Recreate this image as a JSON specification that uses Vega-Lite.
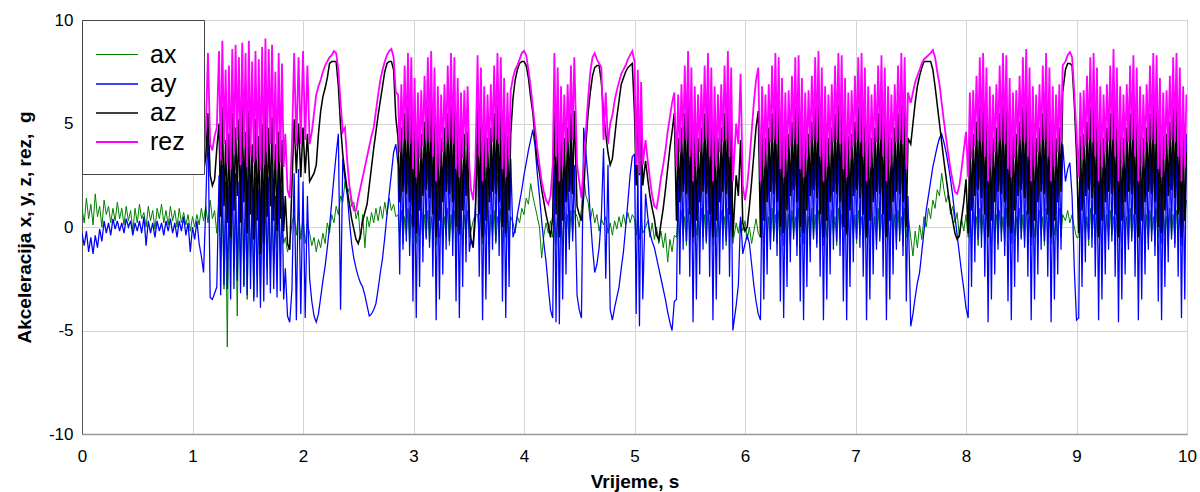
{
"$schema": "https://vega.github.io/schema/vega-lite/v6.json",
"width": 1105,
"height": 414,
"autosize": "none",
"padding": {"left": 82, "top": 20, "right": 13, "bottom": 58},
"background": "white",
"config": {"view": {"stroke": "#444", "strokeWidth": 1}, "font": "Liberation Sans"},
"data": {"values": [
{"t":0.00,"ax":0.9,"ay":-0.3,"az":3.8,"rez":4.3},
{"t":0.02,"ax":0.2,"ay":-0.9,"az":3.6,"rez":4.1},
{"t":0.04,"ax":1.4,"ay":-0.2,"az":3.8,"rez":4.3},
{"t":0.06,"ax":0.4,"ay":-1.2,"az":3.6,"rez":4.1},
{"t":0.08,"ax":1.1,"ay":-0.5,"az":3.8,"rez":4.3},
{"t":0.10,"ax":0.1,"ay":-1.3,"az":3.6,"rez":4.1},
{"t":0.12,"ax":1.6,"ay":-0.4,"az":3.8,"rez":4.3},
{"t":0.14,"ax":0.5,"ay":-1.0,"az":3.6,"rez":4.1},
{"t":0.16,"ax":1.0,"ay":-0.1,"az":3.8,"rez":4.3},
{"t":0.18,"ax":0.0,"ay":-0.7,"az":3.6,"rez":4.1},
{"t":0.20,"ax":1.3,"ay":0.3,"az":3.8,"rez":4.3},
{"t":0.22,"ax":0.6,"ay":-0.3,"az":3.6,"rez":4.1},
{"t":0.24,"ax":1.0,"ay":0.2,"az":3.8,"rez":4.3},
{"t":0.26,"ax":0.2,"ay":-0.4,"az":3.6,"rez":4.1},
{"t":0.28,"ax":0.9,"ay":0.4,"az":3.8,"rez":4.3},
{"t":0.30,"ax":0.3,"ay":-0.1,"az":3.6,"rez":4.1},
{"t":0.32,"ax":1.2,"ay":0.3,"az":3.8,"rez":4.3},
{"t":0.34,"ax":0.4,"ay":-0.2,"az":3.6,"rez":4.1},
{"t":0.36,"ax":0.9,"ay":0.2,"az":3.8,"rez":4.3},
{"t":0.38,"ax":0.1,"ay":-0.3,"az":3.6,"rez":4.1},
{"t":0.40,"ax":1.0,"ay":0.4,"az":3.8,"rez":4.3},
{"t":0.42,"ax":0.3,"ay":0.0,"az":3.6,"rez":4.1},
{"t":0.44,"ax":0.8,"ay":0.3,"az":3.8,"rez":4.3},
{"t":0.46,"ax":-0.2,"ay":-0.4,"az":3.6,"rez":4.1},
{"t":0.48,"ax":0.9,"ay":0.2,"az":3.8,"rez":4.3},
{"t":0.50,"ax":0.2,"ay":-0.2,"az":3.6,"rez":4.1},
{"t":0.52,"ax":1.1,"ay":0.3,"az":3.8,"rez":4.3},
{"t":0.54,"ax":0.4,"ay":-0.3,"az":3.6,"rez":4.1},
{"t":0.56,"ax":0.7,"ay":0.5,"az":3.8,"rez":4.3},
{"t":0.58,"ax":0.0,"ay":-0.9,"az":3.6,"rez":4.1},
{"t":0.60,"ax":1.0,"ay":0.3,"az":3.8,"rez":4.3},
{"t":0.62,"ax":0.3,"ay":-0.3,"az":3.6,"rez":4.1},
{"t":0.64,"ax":0.8,"ay":0.2,"az":3.8,"rez":4.3},
{"t":0.66,"ax":-0.1,"ay":-0.5,"az":3.6,"rez":4.1},
{"t":0.68,"ax":0.9,"ay":0.3,"az":3.8,"rez":4.3},
{"t":0.70,"ax":0.4,"ay":-0.2,"az":3.6,"rez":4.1},
{"t":0.72,"ax":1.1,"ay":0.2,"az":3.8,"rez":4.3},
{"t":0.74,"ax":0.2,"ay":-0.4,"az":3.6,"rez":4.1},
{"t":0.76,"ax":0.8,"ay":0.3,"az":3.8,"rez":4.3},
{"t":0.78,"ax":0.1,"ay":-0.2,"az":3.6,"rez":4.1},
{"t":0.80,"ax":1.0,"ay":0.4,"az":3.8,"rez":4.3},
{"t":0.82,"ax":0.3,"ay":-0.3,"az":3.6,"rez":4.1},
{"t":0.84,"ax":0.8,"ay":0.2,"az":3.8,"rez":4.3},
{"t":0.86,"ax":0.0,"ay":-0.5,"az":3.6,"rez":4.1},
{"t":0.88,"ax":0.9,"ay":0.3,"az":3.8,"rez":4.3},
{"t":0.90,"ax":0.2,"ay":-0.2,"az":3.6,"rez":4.1},
{"t":0.92,"ax":0.7,"ay":0.5,"az":3.8,"rez":4.3},
{"t":0.94,"ax":0.1,"ay":-0.4,"az":3.6,"rez":4.1},
{"t":0.96,"ax":0.6,"ay":0.2,"az":3.8,"rez":4.3},
{"t":0.98,"ax":-0.2,"ay":-1.2,"az":3.6,"rez":4.1},
{"t":1.00,"ax":0.5,"ay":0.0,"az":3.8,"rez":4.4},
{"t":1.02,"ax":0.0,"ay":-0.6,"az":3.5,"rez":4.0},
{"t":1.04,"ax":0.6,"ay":0.3,"az":3.9,"rez":4.4},
{"t":1.06,"ax":0.1,"ay":-0.8,"az":3.2,"rez":3.8},
{"t":1.08,"ax":0.9,"ay":-1.4,"az":3.6,"rez":4.7},
{"t":1.10,"ax":0.3,"ay":-2.2,"az":2.6,"rez":3.5},
{"t":1.12,"ax":1.0,"ay":1.0,"az":3.4,"rez":4.6},
{"t":1.14,"ax":0.2,"ay":5.0,"az":5.5,"rez":8.4},
{"t":1.16,"ax":1.3,"ay":-3.4,"az":2.5,"rez":4.0},
{"t":1.18,"ax":0.4,"ay":-3.5,"az":2.0,"rez":3.7},
{"t":1.20,"ax":0.8,"ay":-3.2,"az":2.3,"rez":4.4},
{"t":1.22,"ax":-0.3,"ay":-2.9,"az":3.8,"rez":4.8},
{"t":1.240,"ax":1.5,"ay":2.5,"az":5.0,"rez":8.5},
{"t":1.255,"ax":-1.5,"ay":-3.3,"az":0.5,"rez":3.2},
{"t":1.270,"ax":1.0,"ay":3.0,"az":5.8,"rez":9.0},
{"t":1.285,"ax":-3.0,"ay":-2.8,"az":1.0,"rez":4.0},
{"t":1.300,"ax":0.8,"ay":2.2,"az":4.2,"rez":7.6},
{"t":1.315,"ax":-5.8,"ay":-3.0,"az":0.2,"rez":3.0},
{"t":1.330,"ax":1.6,"ay":2.0,"az":4.5,"rez":7.8},
{"t":1.345,"ax":-1.2,"ay":-3.5,"az":-0.5,"rez":2.8},
{"t":1.360,"ax":1.8,"ay":3.4,"az":5.5,"rez":8.6},
{"t":1.375,"ax":-2.0,"ay":-3.0,"az":0.8,"rez":3.5},
{"t":1.390,"ax":0.8,"ay":2.6,"az":4.8,"rez":8.8},
{"t":1.405,"ax":-4.3,"ay":-2.6,"az":1.5,"rez":4.2},
{"t":1.420,"ax":1.2,"ay":2.2,"az":5.2,"rez":8.2},
{"t":1.435,"ax":-2.0,"ay":-3.2,"az":0.2,"rez":3.0},
{"t":1.450,"ax":1.5,"ay":3.2,"az":6.0,"rez":8.9},
{"t":1.465,"ax":-2.8,"ay":-2.9,"az":1.2,"rez":3.8},
{"t":1.480,"ax":0.6,"ay":2.8,"az":4.6,"rez":8.4},
{"t":1.495,"ax":-3.5,"ay":-3.3,"az":-0.3,"rez":2.9},
{"t":1.510,"ax":1.0,"ay":3.0,"az":5.6,"rez":9.0},
{"t":1.525,"ax":-1.5,"ay":-3.0,"az":0.6,"rez":3.4},
{"t":1.540,"ax":0.9,"ay":2.0,"az":4.0,"rez":8.0},
{"t":1.555,"ax":-3.4,"ay":-3.6,"az":-0.6,"rez":3.1},
{"t":1.570,"ax":1.4,"ay":2.4,"az":5.2,"rez":8.5},
{"t":1.585,"ax":-2.4,"ay":-3.4,"az":0.3,"rez":3.3},
{"t":1.600,"ax":0.5,"ay":1.8,"az":4.4,"rez":8.1},
{"t":1.615,"ax":-3.2,"ay":-3.9,"az":-1.3,"rez":2.7},
{"t":1.630,"ax":0.4,"ay":2.6,"az":5.0,"rez":8.7},
{"t":1.645,"ax":-1.6,"ay":-3.6,"az":-0.8,"rez":3.0},
{"t":1.660,"ax":1.0,"ay":3.2,"az":5.9,"rez":9.1},
{"t":1.675,"ax":-2.0,"ay":-2.8,"az":0.5,"rez":3.6},
{"t":1.690,"ax":0.7,"ay":2.4,"az":4.8,"rez":8.6},
{"t":1.705,"ax":-2.5,"ay":-3.2,"az":1.0,"rez":4.0},
{"t":1.720,"ax":0.5,"ay":2.8,"az":5.3,"rez":8.8},
{"t":1.735,"ax":-1.8,"ay":-3.0,"az":0.3,"rez":3.3},
{"t":1.750,"ax":0.3,"ay":1.5,"az":4.0,"rez":7.5},
{"t":1.765,"ax":-1.0,"ay":-3.4,"az":-0.2,"rez":2.8},
{"t":1.780,"ax":0.6,"ay":2.6,"az":4.6,"rez":8.4},
{"t":1.795,"ax":-1.2,"ay":-3.1,"az":0.4,"rez":3.1},
{"t":1.810,"ax":0.5,"ay":2.0,"az":4.2,"rez":7.9},
{"t":1.825,"ax":-0.8,"ay":-3.5,"az":-0.2,"rez":2.9},
{"t":1.84,"ax":-0.5,"ay":-2.0,"az":1.5,"rez":4.5},
{"t":1.86,"ax":-1.2,"ay":-4.3,"az":-0.8,"rez":1.8},
{"t":1.88,"ax":-0.8,"ay":-4.6,"az":-1.1,"rez":1.4},
{"t":1.90,"ax":0.2,"ay":-3.0,"az":2.0,"rez":4.0},
{"t":1.92,"ax":0.6,"ay":2.6,"az":5.2,"rez":8.4},
{"t":1.94,"ax":-0.4,"ay":-4.5,"az":2.6,"rez":3.9},
{"t":1.96,"ax":0.8,"ay":2.8,"az":5.0,"rez":8.2},
{"t":1.98,"ax":-0.6,"ay":-4.2,"az":2.4,"rez":4.0},
{"t":2.00,"ax":0.5,"ay":2.2,"az":4.8,"rez":8.5},
{"t":2.02,"ax":-0.8,"ay":-4.4,"az":2.6,"rez":4.2},
{"t":2.04,"ax":0.2,"ay":1.5,"az":4.5,"rez":7.8},
{"t":2.06,"ax":-0.3,"ay":-2.5,"az":2.2,"rez":4.0},
{"t":2.08,"ax":-0.9,"ay":-3.6,"az":2.4,"rez":4.6},
{"t":2.10,"ax":-0.5,"ay":-4.3,"az":2.6,"rez":5.5},
{"t":2.12,"ax":-1.2,"ay":-4.6,"az":3.0,"rez":6.4},
{"t":2.14,"ax":-0.6,"ay":-4.2,"az":4.5,"rez":6.8},
{"t":2.16,"ax":-1.0,"ay":-3.4,"az":5.6,"rez":7.1},
{"t":2.18,"ax":-0.3,"ay":-2.6,"az":6.3,"rez":7.5},
{"t":2.20,"ax":-0.8,"ay":-1.9,"az":6.7,"rez":7.8},
{"t":2.22,"ax":0.2,"ay":-1.0,"az":7.2,"rez":8.0},
{"t":2.24,"ax":-0.3,"ay":0.0,"az":7.9,"rez":8.2},
{"t":2.26,"ax":0.6,"ay":1.2,"az":8.0,"rez":8.3},
{"t":2.28,"ax":0.2,"ay":2.4,"az":8.0,"rez":8.5},
{"t":2.30,"ax":1.0,"ay":3.5,"az":8.0,"rez":8.4},
{"t":2.32,"ax":0.6,"ay":4.5,"az":6.8,"rez":7.6},
{"t":2.34,"ax":1.5,"ay":-4.0,"az":4.9,"rez":6.0},
{"t":2.36,"ax":1.2,"ay":3.3,"az":3.5,"rez":4.6},
{"t":2.38,"ax":2.2,"ay":2.3,"az":2.6,"rez":4.8},
{"t":2.40,"ax":1.6,"ay":1.6,"az":1.8,"rez":3.2},
{"t":2.42,"ax":1.9,"ay":0.3,"az":1.1,"rez":2.0},
{"t":2.44,"ax":1.0,"ay":-0.8,"az":0.4,"rez":1.3},
{"t":2.46,"ax":1.2,"ay":-1.5,"az":-0.1,"rez":0.8},
{"t":2.48,"ax":0.4,"ay":-2.0,"az":-0.6,"rez":0.8},
{"t":2.50,"ax":0.8,"ay":-2.4,"az":-0.8,"rez":1.4},
{"t":2.52,"ax":-0.6,"ay":-2.7,"az":-0.4,"rez":1.9},
{"t":2.54,"ax":0.6,"ay":-2.9,"az":0.3,"rez":2.4},
{"t":2.56,"ax":-1.0,"ay":-3.3,"az":0.7,"rez":2.9},
{"t":2.58,"ax":0.5,"ay":-3.8,"az":1.1,"rez":3.4},
{"t":2.60,"ax":0.0,"ay":-4.3,"az":2.0,"rez":3.9},
{"t":2.62,"ax":0.7,"ay":-4.2,"az":2.9,"rez":4.4},
{"t":2.64,"ax":0.2,"ay":-4.0,"az":3.8,"rez":4.8},
{"t":2.66,"ax":0.9,"ay":-3.7,"az":4.6,"rez":5.6},
{"t":2.68,"ax":0.3,"ay":-3.0,"az":5.4,"rez":6.4},
{"t":2.70,"ax":1.0,"ay":-2.2,"az":6.1,"rez":7.1},
{"t":2.72,"ax":0.4,"ay":-1.5,"az":6.8,"rez":7.6},
{"t":2.74,"ax":1.2,"ay":-0.5,"az":7.5,"rez":8.0},
{"t":2.76,"ax":0.6,"ay":0.6,"az":7.9,"rez":8.3},
{"t":2.78,"ax":1.4,"ay":1.6,"az":8.0,"rez":8.5},
{"t":2.80,"ax":0.8,"ay":2.6,"az":8.0,"rez":8.6},
{"t":2.82,"ax":1.1,"ay":3.6,"az":7.6,"rez":8.2},
{"t":2.84,"ax":0.5,"ay":4.0,"az":5.3,"rez":6.5},
{"t":2.860,"ax":0.6,"ay":3.0,"az":4.3,"rez":6.4},
{"t":2.875,"ax":-0.5,"ay":-2.3,"az":1.2,"rez":3.6},
{"t":2.890,"ax":0.8,"ay":3.6,"az":4.8,"rez":6.9},
{"t":2.905,"ax":-0.8,"ay":-1.1,"az":1.7,"rez":4.1},
{"t":2.920,"ax":0.5,"ay":4.2,"az":5.5,"rez":7.8},
{"t":2.935,"ax":-0.4,"ay":-0.7,"az":1.6,"rez":4.2},
{"t":2.950,"ax":0.9,"ay":4.3,"az":5.9,"rez":8.4},
{"t":2.965,"ax":-0.9,"ay":-1.4,"az":1.2,"rez":4.0},
{"t":2.980,"ax":0.6,"ay":3.8,"az":5.7,"rez":8.2},
{"t":2.995,"ax":-0.5,"ay":-3.6,"az":0.0,"rez":2.8},
{"t":3.010,"ax":0.8,"ay":2.8,"az":4.9,"rez":7.2},
{"t":3.025,"ax":-0.8,"ay":-4.4,"az":-0.3,"rez":2.4},
{"t":3.040,"ax":0.5,"ay":2.7,"az":4.4,"rez":6.5},
{"t":3.055,"ax":-0.4,"ay":-2.9,"az":0.8,"rez":3.3},
{"t":3.070,"ax":0.9,"ay":3.3,"az":4.5,"rez":6.6},
{"t":3.085,"ax":-0.9,"ay":-1.7,"az":1.5,"rez":3.9},
{"t":3.100,"ax":0.6,"ay":3.9,"az":5.1,"rez":7.3},
{"t":3.115,"ax":-0.5,"ay":-0.6,"az":1.8,"rez":4.2},
{"t":3.130,"ax":0.8,"ay":4.4,"az":5.8,"rez":8.2},
{"t":3.145,"ax":-0.8,"ay":-1.0,"az":1.4,"rez":4.1},
{"t":3.160,"ax":0.5,"ay":4.2,"az":6.0,"rez":8.5},
{"t":3.175,"ax":-0.4,"ay":-2.4,"az":0.6,"rez":3.4},
{"t":3.190,"ax":0.9,"ay":3.3,"az":5.3,"rez":7.7},
{"t":3.205,"ax":-0.9,"ay":-4.5,"az":-0.5,"rez":2.2},
{"t":3.220,"ax":0.6,"ay":2.6,"az":4.6,"rez":6.8},
{"t":3.235,"ax":-0.5,"ay":-3.5,"az":0.3,"rez":2.9},
{"t":3.250,"ax":0.8,"ay":3.0,"az":4.3,"rez":6.4},
{"t":3.265,"ax":-0.8,"ay":-2.3,"az":1.2,"rez":3.6},
{"t":3.280,"ax":0.5,"ay":3.6,"az":4.8,"rez":6.9},
{"t":3.295,"ax":-0.4,"ay":-1.1,"az":1.7,"rez":4.1},
{"t":3.310,"ax":0.9,"ay":4.2,"az":5.5,"rez":7.8},
{"t":3.325,"ax":-0.9,"ay":-0.7,"az":1.6,"rez":4.2},
{"t":3.340,"ax":0.6,"ay":4.3,"az":5.9,"rez":8.4},
{"t":3.355,"ax":-0.5,"ay":-1.4,"az":1.2,"rez":4.0},
{"t":3.370,"ax":0.8,"ay":3.8,"az":5.7,"rez":8.2},
{"t":3.385,"ax":-0.8,"ay":-3.6,"az":0.0,"rez":2.8},
{"t":3.400,"ax":0.5,"ay":2.8,"az":4.9,"rez":7.2},
{"t":3.415,"ax":-0.4,"ay":-4.4,"az":-0.3,"rez":2.4},
{"t":3.430,"ax":0.9,"ay":2.7,"az":4.4,"rez":6.5},
{"t":3.445,"ax":-0.9,"ay":-2.9,"az":0.8,"rez":3.3},
{"t":3.460,"ax":0.6,"ay":3.3,"az":4.5,"rez":6.6},
{"t":3.475,"ax":-0.5,"ay":-1.7,"az":1.5,"rez":3.9},
{"t":3.490,"ax":0.8,"ay":3.5,"az":4.6,"rez":6.8},
{"t":3.505,"ax":-0.5,"ay":-1.2,"az":0.5,"rez":3.0},
{"t":3.52,"ax":-0.2,"ay":-0.6,"az":-0.6,"rez":1.8},
{"t":3.54,"ax":0.3,"ay":-0.8,"az":-1.0,"rez":1.3},
{"t":3.56,"ax":0.6,"ay":1.0,"az":0.5,"rez":3.0},
{"t":3.580,"ax":0.6,"ay":3.8,"az":5.8,"rez":8.3},
{"t":3.595,"ax":-0.5,"ay":-2.4,"az":0.6,"rez":3.4},
{"t":3.610,"ax":0.8,"ay":3.3,"az":5.3,"rez":7.7},
{"t":3.625,"ax":-0.8,"ay":-4.5,"az":-0.5,"rez":2.2},
{"t":3.640,"ax":0.5,"ay":2.6,"az":4.6,"rez":6.8},
{"t":3.655,"ax":-0.4,"ay":-3.5,"az":0.3,"rez":2.9},
{"t":3.670,"ax":0.9,"ay":3.0,"az":4.3,"rez":6.4},
{"t":3.685,"ax":-0.9,"ay":-2.3,"az":1.2,"rez":3.6},
{"t":3.700,"ax":0.6,"ay":3.6,"az":4.8,"rez":6.9},
{"t":3.715,"ax":-0.5,"ay":-1.1,"az":1.7,"rez":4.1},
{"t":3.730,"ax":0.8,"ay":4.2,"az":5.5,"rez":7.8},
{"t":3.745,"ax":-0.8,"ay":-0.7,"az":1.6,"rez":4.2},
{"t":3.760,"ax":0.5,"ay":4.3,"az":5.9,"rez":8.4},
{"t":3.775,"ax":-0.4,"ay":-1.4,"az":1.2,"rez":4.0},
{"t":3.790,"ax":0.9,"ay":3.8,"az":5.7,"rez":8.2},
{"t":3.805,"ax":-0.9,"ay":-3.6,"az":0.0,"rez":2.8},
{"t":3.820,"ax":0.6,"ay":2.8,"az":4.9,"rez":7.2},
{"t":3.835,"ax":-0.5,"ay":-4.4,"az":-0.3,"rez":2.4},
{"t":3.850,"ax":0.8,"ay":2.7,"az":4.4,"rez":6.5},
{"t":3.865,"ax":-0.8,"ay":-2.9,"az":0.8,"rez":3.3},
{"t":3.880,"ax":0.5,"ay":3.3,"az":4.5,"rez":6.6},
{"t":3.90,"ax":0.2,"ay":-0.5,"az":6.2,"rez":7.2},
{"t":3.92,"ax":-0.3,"ay":-0.1,"az":7.1,"rez":7.6},
{"t":3.94,"ax":0.5,"ay":0.6,"az":7.6,"rez":7.8},
{"t":3.96,"ax":0.2,"ay":1.2,"az":7.9,"rez":8.1},
{"t":3.98,"ax":0.9,"ay":1.8,"az":8.0,"rez":8.4},
{"t":4.00,"ax":0.6,"ay":2.5,"az":8.0,"rez":8.5},
{"t":4.02,"ax":1.4,"ay":3.1,"az":7.8,"rez":8.3},
{"t":4.04,"ax":1.1,"ay":3.7,"az":7.2,"rez":7.6},
{"t":4.06,"ax":2.1,"ay":4.2,"az":6.3,"rez":6.8},
{"t":4.08,"ax":1.5,"ay":4.7,"az":5.5,"rez":5.8},
{"t":4.10,"ax":1.0,"ay":3.9,"az":4.3,"rez":4.8},
{"t":4.12,"ax":0.5,"ay":2.6,"az":3.2,"rez":3.8},
{"t":4.14,"ax":0.0,"ay":1.5,"az":2.6,"rez":3.0},
{"t":4.16,"ax":-1.5,"ay":0.3,"az":1.8,"rez":2.2},
{"t":4.18,"ax":-0.4,"ay":-0.8,"az":1.2,"rez":1.7},
{"t":4.20,"ax":0.2,"ay":-1.7,"az":0.6,"rez":1.3},
{"t":4.22,"ax":-0.3,"ay":-2.9,"az":0.1,"rez":1.1},
{"t":4.24,"ax":0.3,"ay":-4.0,"az":-0.5,"rez":1.5},
{"t":4.260,"ax":-0.5,"ay":-4.4,"az":0.5,"rez":3.0},
{"t":4.275,"ax":0.6,"ay":3.0,"az":5.8,"rez":8.4},
{"t":4.290,"ax":-0.8,"ay":-4.6,"az":0.6,"rez":3.4},
{"t":4.305,"ax":0.8,"ay":3.3,"az":5.3,"rez":7.7},
{"t":4.320,"ax":-0.4,"ay":-4.7,"az":-0.5,"rez":2.2},
{"t":4.335,"ax":0.5,"ay":2.6,"az":4.6,"rez":6.8},
{"t":4.350,"ax":-0.9,"ay":-3.5,"az":0.3,"rez":2.9},
{"t":4.365,"ax":0.9,"ay":3.0,"az":4.3,"rez":6.4},
{"t":4.380,"ax":-0.5,"ay":-2.3,"az":1.2,"rez":3.6},
{"t":4.395,"ax":0.6,"ay":3.6,"az":4.8,"rez":6.9},
{"t":4.410,"ax":-0.8,"ay":-1.1,"az":1.7,"rez":4.1},
{"t":4.425,"ax":0.8,"ay":4.2,"az":5.5,"rez":7.8},
{"t":4.440,"ax":-0.4,"ay":-0.7,"az":1.6,"rez":4.2},
{"t":4.455,"ax":0.8,"ay":3.0,"az":5.6,"rez":8.2},
{"t":4.48,"ax":0.5,"ay":-3.3,"az":1.0,"rez":3.0},
{"t":4.50,"ax":0.0,"ay":-4.0,"az":0.6,"rez":2.2},
{"t":4.52,"ax":0.9,"ay":-4.4,"az":0.3,"rez":1.4},
{"t":4.54,"ax":2.5,"ay":4.8,"az":1.5,"rez":3.0},
{"t":4.56,"ax":1.5,"ay":3.6,"az":4.0,"rez":4.6},
{"t":4.58,"ax":1.2,"ay":2.3,"az":5.5,"rez":6.2},
{"t":4.60,"ax":0.3,"ay":0.5,"az":6.5,"rez":7.5},
{"t":4.62,"ax":0.9,"ay":-1.0,"az":7.3,"rez":8.2},
{"t":4.64,"ax":0.2,"ay":-2.2,"az":7.7,"rez":8.4},
{"t":4.66,"ax":0.6,"ay":-1.8,"az":7.8,"rez":8.1},
{"t":4.68,"ax":-0.2,"ay":-1.0,"az":7.8,"rez":7.9},
{"t":4.70,"ax":0.4,"ay":0.5,"az":7.0,"rez":7.7},
{"t":4.72,"ax":0.1,"ay":3.8,"az":5.5,"rez":4.2},
{"t":4.74,"ax":0.5,"ay":-2.5,"az":4.5,"rez":6.5},
{"t":4.76,"ax":-0.3,"ay":3.0,"az":3.6,"rez":4.0},
{"t":4.78,"ax":0.2,"ay":-4.0,"az":3.0,"rez":5.0},
{"t":4.80,"ax":-0.4,"ay":-4.5,"az":3.3,"rez":5.4},
{"t":4.82,"ax":0.3,"ay":-3.9,"az":4.3,"rez":6.1},
{"t":4.84,"ax":-0.1,"ay":-3.4,"az":5.3,"rez":6.6},
{"t":4.86,"ax":0.5,"ay":-2.9,"az":6.1,"rez":7.0},
{"t":4.88,"ax":0.0,"ay":-2.0,"az":6.9,"rez":7.4},
{"t":4.90,"ax":0.6,"ay":-1.2,"az":7.2,"rez":7.6},
{"t":4.92,"ax":0.1,"ay":0.0,"az":7.5,"rez":7.8},
{"t":4.94,"ax":0.7,"ay":1.2,"az":7.7,"rez":8.1},
{"t":4.96,"ax":0.2,"ay":2.5,"az":7.8,"rez":8.3},
{"t":4.98,"ax":0.6,"ay":3.4,"az":7.9,"rez":8.5},
{"t":5.000,"ax":0.4,"ay":3.5,"az":5.5,"rez":8.0},
{"t":5.015,"ax":-0.4,"ay":-4.2,"az":2.0,"rez":3.0},
{"t":5.030,"ax":0.6,"ay":3.0,"az":5.8,"rez":7.6},
{"t":5.045,"ax":-0.6,"ay":-4.8,"az":2.5,"rez":2.6},
{"t":5.060,"ax":0.5,"ay":3.2,"az":5.0,"rez":7.0},
{"t":5.075,"ax":-0.3,"ay":-3.5,"az":2.0,"rez":3.0},
{"t":5.10,"ax":0.0,"ay":1.6,"az":3.2,"rez":4.2},
{"t":5.12,"ax":0.3,"ay":0.5,"az":2.3,"rez":3.2},
{"t":5.14,"ax":-0.5,"ay":-0.3,"az":1.5,"rez":2.3},
{"t":5.16,"ax":0.2,"ay":-0.7,"az":0.9,"rez":1.5},
{"t":5.18,"ax":-0.6,"ay":-1.0,"az":0.4,"rez":1.0},
{"t":5.20,"ax":0.0,"ay":-1.5,"az":-0.4,"rez":0.9},
{"t":5.22,"ax":-0.8,"ay":-2.0,"az":-0.6,"rez":1.6},
{"t":5.24,"ax":-0.2,"ay":-2.5,"az":0.2,"rez":2.4},
{"t":5.26,"ax":-1.0,"ay":-3.0,"az":0.9,"rez":3.0},
{"t":5.28,"ax":-0.3,"ay":-3.5,"az":1.8,"rez":3.7},
{"t":5.30,"ax":-1.7,"ay":-4.1,"az":2.8,"rez":4.6},
{"t":5.32,"ax":-0.6,"ay":-4.6,"az":3.8,"rez":5.3},
{"t":5.34,"ax":-1.2,"ay":-5.0,"az":4.6,"rez":6.0},
{"t":5.36,"ax":-0.4,"ay":-3.6,"az":5.5,"rez":6.5},
{"t":5.380,"ax":-0.5,"ay":-3.5,"az":0.3,"rez":2.9},
{"t":5.395,"ax":0.6,"ay":3.0,"az":4.3,"rez":6.4},
{"t":5.410,"ax":-0.8,"ay":-2.3,"az":1.2,"rez":3.6},
{"t":5.425,"ax":0.8,"ay":3.6,"az":4.8,"rez":6.9},
{"t":5.440,"ax":-0.4,"ay":-1.1,"az":1.7,"rez":4.1},
{"t":5.455,"ax":0.5,"ay":4.2,"az":5.5,"rez":7.8},
{"t":5.470,"ax":-0.9,"ay":-0.7,"az":1.6,"rez":4.2},
{"t":5.485,"ax":0.9,"ay":4.2,"az":6.0,"rez":8.5},
{"t":5.500,"ax":-0.5,"ay":-2.4,"az":0.6,"rez":3.4},
{"t":5.515,"ax":0.6,"ay":3.3,"az":5.3,"rez":7.7},
{"t":5.530,"ax":-0.8,"ay":-4.6,"az":-0.5,"rez":2.2},
{"t":5.545,"ax":0.8,"ay":2.6,"az":4.6,"rez":6.8},
{"t":5.560,"ax":-0.4,"ay":-3.5,"az":0.3,"rez":2.9},
{"t":5.575,"ax":0.5,"ay":3.0,"az":4.3,"rez":6.4},
{"t":5.590,"ax":-0.9,"ay":-2.3,"az":1.2,"rez":3.6},
{"t":5.605,"ax":0.9,"ay":3.6,"az":4.8,"rez":6.9},
{"t":5.620,"ax":-0.5,"ay":-1.1,"az":1.7,"rez":4.1},
{"t":5.635,"ax":0.6,"ay":4.2,"az":5.5,"rez":7.8},
{"t":5.650,"ax":-0.8,"ay":-0.7,"az":1.6,"rez":4.2},
{"t":5.665,"ax":0.8,"ay":4.2,"az":5.9,"rez":8.4},
{"t":5.680,"ax":-0.4,"ay":-2.4,"az":0.6,"rez":3.4},
{"t":5.695,"ax":0.5,"ay":3.3,"az":5.3,"rez":7.7},
{"t":5.710,"ax":-0.9,"ay":-4.5,"az":-0.5,"rez":2.2},
{"t":5.725,"ax":0.9,"ay":2.6,"az":4.6,"rez":6.8},
{"t":5.740,"ax":-0.5,"ay":-3.5,"az":0.3,"rez":2.9},
{"t":5.755,"ax":0.6,"ay":3.0,"az":4.3,"rez":6.4},
{"t":5.770,"ax":-0.8,"ay":-2.3,"az":1.2,"rez":3.6},
{"t":5.785,"ax":0.8,"ay":3.6,"az":4.8,"rez":6.9},
{"t":5.800,"ax":-0.4,"ay":-1.1,"az":1.7,"rez":4.1},
{"t":5.815,"ax":0.5,"ay":4.2,"az":5.5,"rez":7.8},
{"t":5.830,"ax":-0.9,"ay":-0.7,"az":1.6,"rez":4.2},
{"t":5.845,"ax":0.9,"ay":4.2,"az":6.0,"rez":8.5},
{"t":5.860,"ax":-0.5,"ay":-2.4,"az":0.6,"rez":3.4},
{"t":5.875,"ax":0.6,"ay":3.3,"az":5.3,"rez":7.7},
{"t":5.890,"ax":-0.8,"ay":-5.0,"az":-0.5,"rez":2.2},
{"t":5.92,"ax":0.2,"ay":-3.8,"az":2.5,"rez":5.0},
{"t":5.94,"ax":-0.3,"ay":-2.8,"az":1.5,"rez":4.0},
{"t":5.96,"ax":0.4,"ay":0.5,"az":4.2,"rez":7.4},
{"t":5.98,"ax":-0.2,"ay":-1.3,"az":0.2,"rez":2.0},
{"t":6.00,"ax":0.3,"ay":-0.8,"az":-0.2,"rez":1.3},
{"t":6.02,"ax":-0.6,"ay":-0.4,"az":0.0,"rez":2.0},
{"t":6.04,"ax":0.0,"ay":-0.8,"az":1.0,"rez":3.2},
{"t":6.06,"ax":-0.8,"ay":-1.8,"az":2.2,"rez":4.6},
{"t":6.08,"ax":-0.2,"ay":-2.8,"az":3.5,"rez":6.0},
{"t":6.10,"ax":0.4,"ay":-3.6,"az":4.8,"rez":7.1},
{"t":6.12,"ax":-0.3,"ay":-4.2,"az":5.6,"rez":7.7},
{"t":6.140,"ax":-0.5,"ay":-4.5,"az":-0.5,"rez":2.2},
{"t":6.155,"ax":0.6,"ay":2.6,"az":4.6,"rez":6.8},
{"t":6.170,"ax":-0.8,"ay":-3.5,"az":0.3,"rez":2.9},
{"t":6.185,"ax":0.8,"ay":3.0,"az":4.3,"rez":6.4},
{"t":6.200,"ax":-0.4,"ay":-2.3,"az":1.2,"rez":3.6},
{"t":6.215,"ax":0.5,"ay":3.6,"az":4.8,"rez":6.9},
{"t":6.230,"ax":-0.9,"ay":-1.1,"az":1.7,"rez":4.1},
{"t":6.245,"ax":0.9,"ay":4.2,"az":5.5,"rez":7.8},
{"t":6.260,"ax":-0.5,"ay":-0.7,"az":1.6,"rez":4.2},
{"t":6.275,"ax":0.6,"ay":4.3,"az":5.9,"rez":8.4},
{"t":6.290,"ax":-0.8,"ay":-1.4,"az":1.2,"rez":4.0},
{"t":6.305,"ax":0.8,"ay":3.8,"az":5.7,"rez":8.2},
{"t":6.320,"ax":-0.4,"ay":-3.6,"az":0.0,"rez":2.8},
{"t":6.335,"ax":0.5,"ay":2.8,"az":4.9,"rez":7.2},
{"t":6.350,"ax":-0.9,"ay":-4.4,"az":-0.3,"rez":2.4},
{"t":6.365,"ax":0.9,"ay":2.7,"az":4.4,"rez":6.5},
{"t":6.380,"ax":-0.5,"ay":-2.9,"az":0.8,"rez":3.3},
{"t":6.395,"ax":0.6,"ay":3.3,"az":4.5,"rez":6.6},
{"t":6.410,"ax":-0.8,"ay":-1.7,"az":1.5,"rez":3.9},
{"t":6.425,"ax":0.8,"ay":3.9,"az":5.1,"rez":7.3},
{"t":6.440,"ax":-0.4,"ay":-0.6,"az":1.8,"rez":4.2},
{"t":6.455,"ax":0.5,"ay":4.4,"az":5.8,"rez":8.2},
{"t":6.470,"ax":-0.9,"ay":-1.4,"az":1.2,"rez":4.0},
{"t":6.485,"ax":0.9,"ay":3.8,"az":5.8,"rez":8.3},
{"t":6.500,"ax":-0.5,"ay":-3.6,"az":0.0,"rez":2.8},
{"t":6.515,"ax":0.6,"ay":2.8,"az":4.9,"rez":7.2},
{"t":6.530,"ax":-0.8,"ay":-4.5,"az":-0.3,"rez":2.4},
{"t":6.545,"ax":0.8,"ay":2.7,"az":4.4,"rez":6.5},
{"t":6.560,"ax":-0.4,"ay":-2.9,"az":0.8,"rez":3.3},
{"t":6.575,"ax":0.5,"ay":3.3,"az":4.5,"rez":6.6},
{"t":6.590,"ax":-0.9,"ay":-1.7,"az":1.5,"rez":3.9},
{"t":6.605,"ax":0.9,"ay":3.9,"az":5.1,"rez":7.3},
{"t":6.620,"ax":-0.5,"ay":-0.6,"az":1.8,"rez":4.2},
{"t":6.635,"ax":0.6,"ay":4.4,"az":5.8,"rez":8.2},
{"t":6.650,"ax":-0.8,"ay":-1.0,"az":1.4,"rez":4.1},
{"t":6.665,"ax":0.8,"ay":4.2,"az":6.0,"rez":8.5},
{"t":6.680,"ax":-0.4,"ay":-2.4,"az":0.6,"rez":3.4},
{"t":6.695,"ax":0.5,"ay":3.3,"az":5.3,"rez":7.7},
{"t":6.710,"ax":-0.9,"ay":-4.5,"az":-0.5,"rez":2.2},
{"t":6.725,"ax":0.9,"ay":2.6,"az":4.6,"rez":6.8},
{"t":6.740,"ax":-0.5,"ay":-3.5,"az":0.3,"rez":2.9},
{"t":6.755,"ax":0.6,"ay":3.0,"az":4.3,"rez":6.4},
{"t":6.770,"ax":-0.8,"ay":-2.3,"az":1.2,"rez":3.6},
{"t":6.785,"ax":0.8,"ay":3.6,"az":4.8,"rez":6.9},
{"t":6.800,"ax":-0.4,"ay":-1.1,"az":1.7,"rez":4.1},
{"t":6.815,"ax":0.5,"ay":4.2,"az":5.5,"rez":7.8},
{"t":6.830,"ax":-0.9,"ay":-0.7,"az":1.6,"rez":4.2},
{"t":6.845,"ax":0.9,"ay":4.3,"az":5.9,"rez":8.4},
{"t":6.860,"ax":-0.5,"ay":-1.4,"az":1.2,"rez":4.0},
{"t":6.875,"ax":0.6,"ay":3.8,"az":5.8,"rez":8.3},
{"t":6.890,"ax":-0.8,"ay":-3.6,"az":0.0,"rez":2.8},
{"t":6.905,"ax":0.8,"ay":2.8,"az":4.9,"rez":7.2},
{"t":6.920,"ax":-0.4,"ay":-4.5,"az":-0.3,"rez":2.4},
{"t":6.935,"ax":0.5,"ay":2.7,"az":4.4,"rez":6.5},
{"t":6.950,"ax":-0.9,"ay":-2.9,"az":0.8,"rez":3.3},
{"t":6.965,"ax":0.9,"ay":3.3,"az":4.5,"rez":6.6},
{"t":6.980,"ax":-0.5,"ay":-1.7,"az":1.5,"rez":3.9},
{"t":6.995,"ax":0.6,"ay":3.9,"az":5.1,"rez":7.3},
{"t":7.010,"ax":-0.8,"ay":-0.6,"az":1.8,"rez":4.2},
{"t":7.025,"ax":0.8,"ay":4.4,"az":5.8,"rez":8.2},
{"t":7.040,"ax":-0.4,"ay":-1.0,"az":1.4,"rez":4.1},
{"t":7.055,"ax":0.5,"ay":4.2,"az":5.9,"rez":8.4},
{"t":7.070,"ax":-0.9,"ay":-2.4,"az":0.6,"rez":3.4},
{"t":7.085,"ax":0.9,"ay":3.3,"az":5.3,"rez":7.7},
{"t":7.100,"ax":-0.5,"ay":-4.5,"az":-0.5,"rez":2.2},
{"t":7.115,"ax":0.6,"ay":2.6,"az":4.6,"rez":6.8},
{"t":7.130,"ax":-0.8,"ay":-3.5,"az":0.3,"rez":2.9},
{"t":7.145,"ax":0.8,"ay":3.0,"az":4.3,"rez":6.4},
{"t":7.160,"ax":-0.4,"ay":-2.3,"az":1.2,"rez":3.6},
{"t":7.175,"ax":0.5,"ay":3.6,"az":4.8,"rez":6.9},
{"t":7.190,"ax":-0.9,"ay":-1.1,"az":1.7,"rez":4.1},
{"t":7.205,"ax":0.9,"ay":4.2,"az":5.5,"rez":7.8},
{"t":7.220,"ax":-0.5,"ay":-0.7,"az":1.6,"rez":4.2},
{"t":7.235,"ax":0.6,"ay":4.2,"az":5.9,"rez":8.3},
{"t":7.250,"ax":-0.8,"ay":-2.4,"az":0.6,"rez":3.4},
{"t":7.265,"ax":0.8,"ay":3.3,"az":5.3,"rez":7.7},
{"t":7.280,"ax":-0.4,"ay":-4.5,"az":-0.5,"rez":2.2},
{"t":7.295,"ax":0.5,"ay":2.6,"az":4.6,"rez":6.8},
{"t":7.310,"ax":-0.9,"ay":-3.5,"az":0.3,"rez":2.9},
{"t":7.325,"ax":0.9,"ay":3.0,"az":4.3,"rez":6.4},
{"t":7.340,"ax":-0.5,"ay":-2.3,"az":1.2,"rez":3.6},
{"t":7.355,"ax":0.6,"ay":3.6,"az":4.8,"rez":6.9},
{"t":7.370,"ax":-0.8,"ay":-1.1,"az":1.7,"rez":4.1},
{"t":7.385,"ax":0.8,"ay":4.2,"az":5.5,"rez":7.8},
{"t":7.400,"ax":-0.4,"ay":-0.7,"az":1.6,"rez":4.2},
{"t":7.415,"ax":0.5,"ay":4.3,"az":5.9,"rez":8.4},
{"t":7.430,"ax":-0.9,"ay":-1.4,"az":1.2,"rez":4.0},
{"t":7.445,"ax":0.9,"ay":3.8,"az":5.7,"rez":8.2},
{"t":7.460,"ax":-0.5,"ay":-3.6,"az":0.0,"rez":2.8},
{"t":7.475,"ax":0.6,"ay":1.5,"az":4.3,"rez":6.5},
{"t":7.50,"ax":-0.5,"ay":-4.8,"az":4.0,"rez":6.0},
{"t":7.52,"ax":-1.4,"ay":-4.2,"az":5.0,"rez":6.5},
{"t":7.54,"ax":-0.2,"ay":-3.4,"az":6.0,"rez":7.0},
{"t":7.56,"ax":-1.0,"ay":-2.7,"az":6.8,"rez":7.3},
{"t":7.58,"ax":0.1,"ay":-2.2,"az":7.3,"rez":7.6},
{"t":7.60,"ax":-0.6,"ay":-1.2,"az":7.7,"rez":7.9},
{"t":7.62,"ax":0.5,"ay":-0.2,"az":8.0,"rez":8.1},
{"t":7.64,"ax":0.0,"ay":0.8,"az":8.0,"rez":8.2},
{"t":7.66,"ax":0.9,"ay":1.5,"az":8.0,"rez":8.3},
{"t":7.68,"ax":0.4,"ay":2.2,"az":8.0,"rez":8.4},
{"t":7.70,"ax":1.3,"ay":2.9,"az":7.6,"rez":8.55},
{"t":7.72,"ax":0.9,"ay":3.4,"az":6.8,"rez":8.2},
{"t":7.74,"ax":1.8,"ay":3.9,"az":5.9,"rez":7.5},
{"t":7.76,"ax":1.5,"ay":4.3,"az":5.0,"rez":6.9},
{"t":7.78,"ax":2.6,"ay":4.5,"az":4.1,"rez":6.0},
{"t":7.80,"ax":1.8,"ay":4.1,"az":3.2,"rez":5.1},
{"t":7.82,"ax":1.2,"ay":3.6,"az":2.4,"rez":4.3},
{"t":7.84,"ax":1.6,"ay":3.0,"az":1.6,"rez":3.5},
{"t":7.86,"ax":0.6,"ay":2.3,"az":0.9,"rez":2.8},
{"t":7.88,"ax":1.0,"ay":1.5,"az":0.3,"rez":2.2},
{"t":7.90,"ax":0.2,"ay":0.5,"az":-0.3,"rez":1.7},
{"t":7.92,"ax":0.7,"ay":-0.4,"az":-0.6,"rez":1.6},
{"t":7.94,"ax":-0.5,"ay":-1.3,"az":-0.4,"rez":2.0},
{"t":7.96,"ax":0.4,"ay":-2.2,"az":0.4,"rez":2.8},
{"t":7.98,"ax":-0.2,"ay":-3.0,"az":1.2,"rez":3.7},
{"t":8.00,"ax":0.6,"ay":-3.9,"az":2.3,"rez":4.6},
{"t":8.020,"ax":-0.5,"ay":-4.4,"az":-0.3,"rez":2.4},
{"t":8.035,"ax":0.6,"ay":2.7,"az":4.4,"rez":6.5},
{"t":8.050,"ax":-0.8,"ay":-2.9,"az":0.8,"rez":3.3},
{"t":8.065,"ax":0.8,"ay":3.3,"az":4.5,"rez":6.6},
{"t":8.080,"ax":-0.4,"ay":-1.7,"az":1.5,"rez":3.9},
{"t":8.095,"ax":0.5,"ay":3.9,"az":5.1,"rez":7.3},
{"t":8.110,"ax":-0.9,"ay":-0.6,"az":1.8,"rez":4.2},
{"t":8.125,"ax":0.9,"ay":4.4,"az":5.8,"rez":8.2},
{"t":8.140,"ax":-0.5,"ay":-1.0,"az":1.4,"rez":4.1},
{"t":8.155,"ax":0.6,"ay":4.2,"az":5.9,"rez":8.4},
{"t":8.170,"ax":-0.8,"ay":-2.4,"az":0.6,"rez":3.4},
{"t":8.185,"ax":0.8,"ay":3.3,"az":5.3,"rez":7.7},
{"t":8.200,"ax":-0.4,"ay":-4.6,"az":-0.5,"rez":2.2},
{"t":8.215,"ax":0.5,"ay":2.6,"az":4.6,"rez":6.8},
{"t":8.230,"ax":-0.9,"ay":-3.5,"az":0.3,"rez":2.9},
{"t":8.245,"ax":0.9,"ay":3.0,"az":4.3,"rez":6.4},
{"t":8.260,"ax":-0.5,"ay":-2.3,"az":1.2,"rez":3.6},
{"t":8.275,"ax":0.6,"ay":3.6,"az":4.8,"rez":6.9},
{"t":8.290,"ax":-0.8,"ay":-1.1,"az":1.7,"rez":4.1},
{"t":8.305,"ax":0.8,"ay":4.2,"az":5.5,"rez":7.8},
{"t":8.320,"ax":-0.4,"ay":-0.7,"az":1.6,"rez":4.2},
{"t":8.335,"ax":0.5,"ay":4.3,"az":5.9,"rez":8.4},
{"t":8.350,"ax":-0.9,"ay":-1.4,"az":1.2,"rez":4.0},
{"t":8.365,"ax":0.9,"ay":3.8,"az":5.8,"rez":8.3},
{"t":8.380,"ax":-0.5,"ay":-3.6,"az":0.0,"rez":2.8},
{"t":8.395,"ax":0.6,"ay":2.8,"az":4.9,"rez":7.2},
{"t":8.410,"ax":-0.8,"ay":-4.5,"az":-0.3,"rez":2.4},
{"t":8.425,"ax":0.8,"ay":2.7,"az":4.4,"rez":6.5},
{"t":8.440,"ax":-0.4,"ay":-2.9,"az":0.8,"rez":3.3},
{"t":8.455,"ax":0.5,"ay":3.3,"az":4.5,"rez":6.6},
{"t":8.470,"ax":-0.9,"ay":-1.7,"az":1.5,"rez":3.9},
{"t":8.485,"ax":0.9,"ay":3.9,"az":5.1,"rez":7.3},
{"t":8.500,"ax":-0.5,"ay":-0.6,"az":1.8,"rez":4.2},
{"t":8.515,"ax":0.6,"ay":4.4,"az":5.8,"rez":8.2},
{"t":8.530,"ax":-0.8,"ay":-1.0,"az":1.4,"rez":4.1},
{"t":8.545,"ax":0.8,"ay":4.2,"az":6.0,"rez":8.6},
{"t":8.560,"ax":-0.4,"ay":-2.4,"az":0.6,"rez":3.4},
{"t":8.575,"ax":0.5,"ay":3.3,"az":5.3,"rez":7.7},
{"t":8.590,"ax":-0.9,"ay":-4.5,"az":-0.5,"rez":2.2},
{"t":8.605,"ax":0.9,"ay":2.6,"az":4.6,"rez":6.8},
{"t":8.620,"ax":-0.5,"ay":-3.5,"az":0.3,"rez":2.9},
{"t":8.635,"ax":0.6,"ay":3.0,"az":4.3,"rez":6.4},
{"t":8.650,"ax":-0.8,"ay":-2.3,"az":1.2,"rez":3.6},
{"t":8.665,"ax":0.8,"ay":3.6,"az":4.8,"rez":6.9},
{"t":8.680,"ax":-0.4,"ay":-1.1,"az":1.7,"rez":4.1},
{"t":8.695,"ax":0.5,"ay":4.2,"az":5.5,"rez":7.8},
{"t":8.710,"ax":-0.9,"ay":-0.7,"az":1.6,"rez":4.2},
{"t":8.725,"ax":0.9,"ay":4.2,"az":5.9,"rez":8.4},
{"t":8.740,"ax":-0.5,"ay":-2.4,"az":0.6,"rez":3.4},
{"t":8.755,"ax":0.6,"ay":3.3,"az":5.3,"rez":7.7},
{"t":8.770,"ax":-0.8,"ay":-4.6,"az":-0.5,"rez":2.2},
{"t":8.785,"ax":0.8,"ay":2.6,"az":4.6,"rez":6.8},
{"t":8.800,"ax":-0.4,"ay":-3.5,"az":0.3,"rez":2.9},
{"t":8.815,"ax":0.5,"ay":3.0,"az":4.3,"rez":6.4},
{"t":8.830,"ax":-0.9,"ay":-2.3,"az":1.2,"rez":3.6},
{"t":8.845,"ax":0.9,"ay":3.6,"az":4.8,"rez":6.9},
{"t":8.860,"ax":-0.5,"ay":-1.1,"az":1.7,"rez":4.1},
{"t":8.875,"ax":0.6,"ay":4.0,"az":6.5,"rez":7.8},
{"t":8.90,"ax":0.3,"ay":2.2,"az":7.6,"rez":8.0},
{"t":8.92,"ax":0.8,"ay":2.8,"az":7.9,"rez":8.3},
{"t":8.94,"ax":0.2,"ay":3.1,"az":7.9,"rez":8.45},
{"t":8.96,"ax":0.6,"ay":1.5,"az":7.8,"rez":8.2},
{"t":8.98,"ax":0.0,"ay":-2.0,"az":6.0,"rez":6.5},
{"t":9.00,"ax":-0.5,"ay":-4.5,"az":3.5,"rez":4.5},
{"t":9.020,"ax":-0.5,"ay":-4.4,"az":-0.3,"rez":2.4},
{"t":9.035,"ax":0.6,"ay":2.7,"az":4.4,"rez":6.5},
{"t":9.050,"ax":-0.8,"ay":-2.9,"az":0.8,"rez":3.3},
{"t":9.065,"ax":0.8,"ay":3.3,"az":4.5,"rez":6.6},
{"t":9.080,"ax":-0.4,"ay":-1.7,"az":1.5,"rez":3.9},
{"t":9.095,"ax":0.5,"ay":3.9,"az":5.1,"rez":7.3},
{"t":9.110,"ax":-0.9,"ay":-0.6,"az":1.8,"rez":4.2},
{"t":9.125,"ax":0.9,"ay":4.4,"az":5.8,"rez":8.2},
{"t":9.140,"ax":-0.5,"ay":-1.0,"az":1.4,"rez":4.1},
{"t":9.155,"ax":0.6,"ay":4.2,"az":5.9,"rez":8.4},
{"t":9.170,"ax":-0.8,"ay":-2.4,"az":0.6,"rez":3.4},
{"t":9.185,"ax":0.8,"ay":3.3,"az":5.3,"rez":7.7},
{"t":9.200,"ax":-0.4,"ay":-4.5,"az":-0.5,"rez":2.2},
{"t":9.215,"ax":0.5,"ay":2.6,"az":4.6,"rez":6.8},
{"t":9.230,"ax":-0.9,"ay":-3.5,"az":0.3,"rez":2.9},
{"t":9.245,"ax":0.9,"ay":3.0,"az":4.3,"rez":6.4},
{"t":9.260,"ax":-0.5,"ay":-2.3,"az":1.2,"rez":3.6},
{"t":9.275,"ax":0.6,"ay":3.6,"az":4.8,"rez":6.9},
{"t":9.290,"ax":-0.8,"ay":-1.1,"az":1.7,"rez":4.1},
{"t":9.305,"ax":0.8,"ay":4.2,"az":5.5,"rez":7.8},
{"t":9.320,"ax":-0.4,"ay":-0.7,"az":1.6,"rez":4.2},
{"t":9.335,"ax":0.5,"ay":4.2,"az":6.0,"rez":8.6},
{"t":9.350,"ax":-0.9,"ay":-2.4,"az":0.6,"rez":3.4},
{"t":9.365,"ax":0.9,"ay":3.3,"az":5.3,"rez":7.7},
{"t":9.380,"ax":-0.5,"ay":-4.6,"az":-0.5,"rez":2.2},
{"t":9.395,"ax":0.6,"ay":2.6,"az":4.6,"rez":6.8},
{"t":9.410,"ax":-0.8,"ay":-3.5,"az":0.3,"rez":2.9},
{"t":9.425,"ax":0.8,"ay":3.0,"az":4.3,"rez":6.4},
{"t":9.440,"ax":-0.4,"ay":-2.3,"az":1.2,"rez":3.6},
{"t":9.455,"ax":0.5,"ay":3.6,"az":4.8,"rez":6.9},
{"t":9.470,"ax":-0.9,"ay":-1.1,"az":1.7,"rez":4.1},
{"t":9.485,"ax":0.9,"ay":4.2,"az":5.5,"rez":7.8},
{"t":9.500,"ax":-0.5,"ay":-0.7,"az":1.6,"rez":4.2},
{"t":9.515,"ax":0.6,"ay":4.2,"az":5.9,"rez":8.3},
{"t":9.530,"ax":-0.8,"ay":-2.4,"az":0.6,"rez":3.4},
{"t":9.545,"ax":0.8,"ay":3.3,"az":5.3,"rez":7.7},
{"t":9.560,"ax":-0.4,"ay":-4.5,"az":-0.5,"rez":2.2},
{"t":9.575,"ax":0.5,"ay":2.6,"az":4.6,"rez":6.8},
{"t":9.590,"ax":-0.9,"ay":-3.5,"az":0.3,"rez":2.9},
{"t":9.605,"ax":0.9,"ay":3.0,"az":4.3,"rez":6.4},
{"t":9.620,"ax":-0.5,"ay":-2.3,"az":1.2,"rez":3.6},
{"t":9.635,"ax":0.6,"ay":3.6,"az":4.8,"rez":6.9},
{"t":9.650,"ax":-0.8,"ay":-1.1,"az":1.7,"rez":4.1},
{"t":9.665,"ax":0.8,"ay":4.2,"az":5.5,"rez":7.8},
{"t":9.680,"ax":-0.4,"ay":-0.7,"az":1.6,"rez":4.2},
{"t":9.695,"ax":0.5,"ay":4.3,"az":5.9,"rez":8.4},
{"t":9.710,"ax":-0.9,"ay":-1.4,"az":1.2,"rez":4.0},
{"t":9.725,"ax":0.9,"ay":3.8,"az":5.8,"rez":8.3},
{"t":9.740,"ax":-0.5,"ay":-3.6,"az":0.0,"rez":2.8},
{"t":9.755,"ax":0.6,"ay":2.8,"az":4.9,"rez":7.2},
{"t":9.770,"ax":-0.8,"ay":-4.5,"az":-0.3,"rez":2.4},
{"t":9.785,"ax":0.8,"ay":2.7,"az":4.4,"rez":6.5},
{"t":9.800,"ax":-0.4,"ay":-2.9,"az":0.8,"rez":3.3},
{"t":9.815,"ax":0.5,"ay":3.3,"az":4.5,"rez":6.6},
{"t":9.830,"ax":-0.9,"ay":-1.7,"az":1.5,"rez":3.9},
{"t":9.845,"ax":0.9,"ay":3.9,"az":5.1,"rez":7.3},
{"t":9.860,"ax":-0.5,"ay":-0.6,"az":1.8,"rez":4.2},
{"t":9.875,"ax":0.6,"ay":4.4,"az":5.8,"rez":8.2},
{"t":9.890,"ax":-0.8,"ay":-1.0,"az":1.4,"rez":4.1},
{"t":9.905,"ax":0.8,"ay":4.2,"az":5.9,"rez":8.4},
{"t":9.920,"ax":-0.4,"ay":-2.4,"az":0.6,"rez":3.4},
{"t":9.935,"ax":0.5,"ay":3.3,"az":5.3,"rez":7.7},
{"t":9.950,"ax":-0.9,"ay":-4.4,"az":-0.5,"rez":2.2},
{"t":9.965,"ax":0.9,"ay":2.6,"az":4.6,"rez":6.8},
{"t":9.980,"ax":0.3,"ay":-3.5,"az":0.3,"rez":2.9},
{"t":9.995,"ax":1.3,"ay":4.5,"az":3.6,"rez":6.4}
]},
"transform": [{"fold": ["ax", "ay", "az", "rez"], "as": ["series", "value"]}],
"mark": {"type": "line", "interpolate": "linear", "clip": true},
"encoding": {
  "x": {"field": "t", "type": "quantitative",
    "scale": {"domain": [0, 10], "nice": false, "zero": false},
    "axis": {"title": "Vrijeme, s", "values": [0,1,2,3,4,5,6,7,8,9,10], "format": "d",
      "grid": true, "gridColor": "#d4d4d4", "gridWidth": 1, "ticks": false,
      "labelFontSize": 17, "labelPadding": 14, "labelColor": "#000", "labelFlush": false, "labelOverlap": false,
      "labelFont": "Liberation Sans", "titleFont": "Liberation Sans",
      "titleFontSize": 19, "titleFontWeight": "bold", "titleColor": "#000", "titlePadding": 8,
      "domainColor": "#999", "domainWidth": 1.5}},
  "y": {"field": "value", "type": "quantitative",
    "scale": {"domain": [-10, 10], "nice": false},
    "axis": {"title": "Akceleracija x, y, z, rez,\u00a0 g", "values": [-10,-5,0,5,10],
      "labelExpr": "'' + datum.value",
      "grid": true, "gridColor": "#d4d4d4", "gridWidth": 1, "ticks": false,
      "labelFontSize": 17, "labelPadding": 9, "labelColor": "#000", "labelOverlap": false,
      "labelFont": "Liberation Sans", "titleFont": "Liberation Sans",
      "titleFontSize": 19, "titleFontWeight": "bold", "titleColor": "#000", "titlePadding": 14,
      "domainColor": "#555", "domainWidth": 1}},
  "color": {"field": "series", "type": "nominal",
    "scale": {"domain": ["ax", "ay", "az", "rez"], "range": ["#008000", "#0000FF", "#000000", "#FF00FF"]},
    "legend": {"title": null, "orient": "top-left", "offset": 0, "padding": 19,
      "fillColor": "white", "strokeColor": "#444", "zindex": 1,
      "symbolType": "M-1.4,0H1.4", "symbolSize": 900, "symbolStrokeWidth": 1,
      "labelFontSize": 25, "labelFont": "Liberation Sans", "labelColor": "#000", "labelOffset": 17,
      "rowPadding": 0}},
  "strokeWidth": {"field": "series", "type": "nominal",
    "scale": {"domain": ["ax", "ay", "az", "rez"], "range": [1, 1.8, 1.1, 1.3]},
    "legend": null}
}
}
